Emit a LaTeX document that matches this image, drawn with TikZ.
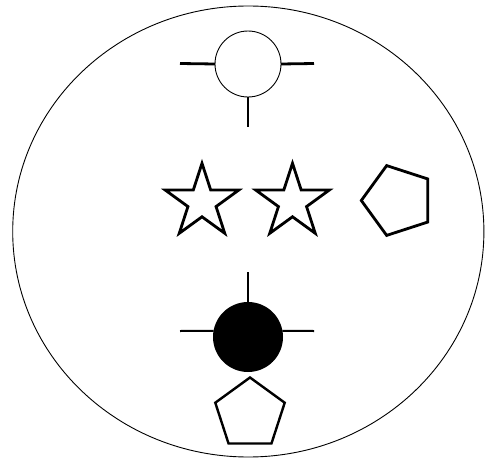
\documentclass[tikz,border=0pt]{standalone}
\usetikzlibrary{shapes.geometric}
\begin{document}
\begin{tikzpicture}[x=1pt,y=-1pt,
  thinline/.style={draw=black,line width=0.9pt},
  stub/.style={draw=black,line width=2.8pt},
  stubthin/.style={draw=black,line width=2pt},
  starshape/.style={star,star points=5,star point ratio=2.618,minimum size=77.4pt,inner sep=0pt,outer sep=0pt,draw=black,fill=white,line width=2.8pt,line join=miter},
  pentshape/.style={regular polygon,regular polygon sides=5,inner sep=0pt,outer sep=0pt,draw=black,fill=white,line width=2.8pt,line join=miter},
  ringshape/.style={circle,inner sep=0pt,outer sep=0pt,minimum size=66pt,draw=black,line width=0.9pt,fill=white},
  dotshape/.style={circle,inner sep=0pt,outer sep=0pt,minimum size=70pt,fill=black},
]
\useasboundingbox (0,0) rectangle (485,460);
\fill[white] (0,0) rectangle (485,460);
% outer ellipse
\draw[thinline] (248.3,231.5) ellipse [x radius=235.6, y radius=225.5];
% top open circle with stubs
\node[ringshape] (tc) at (248,64) {};
\coordinate (tl) at (180,63.5);
\coordinate (tr) at (314,63.5);
\coordinate (tb) at (248,127);
\draw[stub] (tl) -- (tc.west);
\draw[stub] (tc.east) -- (tr);
\draw[stub] (tc.south) -- (tb);
% stars and pentagon
\node[starshape] (s1) at (202,202) {};
\node[starshape] (s2) at (292.5,202) {};
\node[pentshape,minimum size=73.4pt,shape border rotate=90] (p1) at (398,200.5) {};
% filled circle with stubs
\node[dotshape] (bc) at (248,337) {};
\coordinate (bl) at (180,331);
\coordinate (br) at (314,331);
\coordinate (bt) at (248,272);
\draw[stubthin] (bl) -- (bc.170);
\draw[stubthin] (bc.10) -- (br);
\draw[stubthin] (bt) -- (bc.north);
% bottom pentagon
\node[pentshape,minimum size=73pt,line width=2.4pt] (p2) at (250,414) {};
\end{tikzpicture}
\end{document}
